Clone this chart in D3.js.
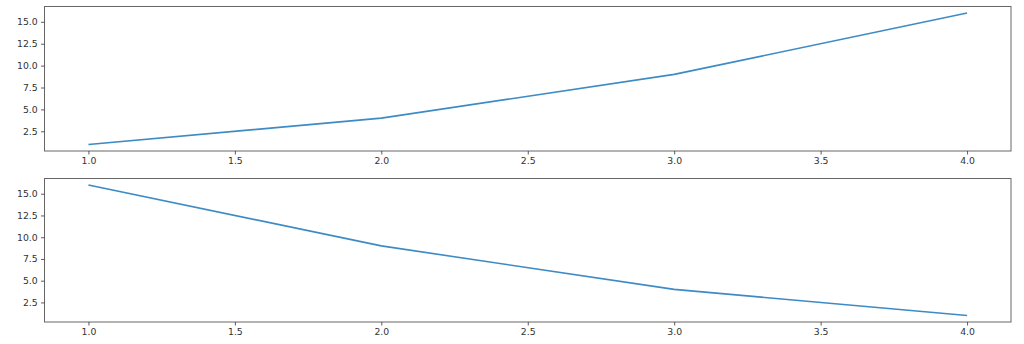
<!DOCTYPE html>
<html>
<head>
<meta charset="utf-8">
<script src="https://cdn.jsdelivr.net/npm/d3@7"></script>
<style>
  body { margin: 0; background: #fff; }
  svg { display: block; }
  .tick text { font-family: "DejaVu Sans", sans-serif; font-size: 9.3px; fill: #333; }
  .tick line { stroke: #333; stroke-width: 0.8; }
</style>
</head>
<body>
<div id="chart"></div>
<script>
// data
const xs = [1, 2, 3, 4];
const ysTop = [1, 4, 9, 16];
const ysBottom = [16, 9, 4, 1];
const xTicks = [1.0, 1.5, 2.0, 2.5, 3.0, 3.5, 4.0];
const yTicks = [2.5, 5.0, 7.5, 10.0, 12.5, 15.0];

const width = 1024, height = 344;

const svg = d3.select("#chart").append("svg")
    .attr("width", width)
    .attr("height", height);

// one panel per series
const panels = [
    { ys: ysTop, top: 6.5, bottom: 151 },
    { ys: ysBottom, top: 178.5, bottom: 322 }
];
const left = 44.5, right = 1011;

// padded domain like matplotlib margins (5%)
function pad(ext) {
    let d = (ext[1] - ext[0]) * 0.05;
    return [ext[0] - d, ext[1] + d];
}

panels.forEach(p => {
    let x = d3.scaleLinear().domain(pad(d3.extent(xs))).range([left, right]);
    let y = d3.scaleLinear().domain(pad(d3.extent(p.ys))).range([p.bottom, p.top]);

    let g = svg.append("g");

    // frame
    g.append("rect")
        .attr("x", left)
        .attr("y", p.top)
        .attr("width", right - left)
        .attr("height", p.bottom - p.top)
        .attr("fill", "none")
        .attr("stroke", "#666")
        .attr("stroke-width", 1);

    g.append("g")
        .attr("transform", `translate(0,${p.bottom})`)
        .call(d3.axisBottom(x).tickValues(xTicks).tickFormat(d3.format(".1f"))
            .tickSizeInner(3.5).tickSizeOuter(0).tickPadding(3.3))
        .call(a => a.select(".domain").remove());

    g.append("g")
        .attr("transform", `translate(${left},0)`)
        .call(d3.axisLeft(y).tickValues(yTicks).tickFormat(d3.format(".1f"))
            .tickSizeInner(3.5).tickSizeOuter(0).tickPadding(3.3))
        .call(a => a.select(".domain").remove());

    let line = d3.line()
        .x((d, i) => x(xs[i]))
        .y(d => y(d));

    g.append("path")
        .datum(p.ys)
        .attr("d", line)
        .attr("fill", "none")
        .attr("stroke", "#3d8bc5")
        .attr("stroke-width", 1.6)
        .attr("stroke-linejoin", "round");
});
</script>
</body>
</html>
